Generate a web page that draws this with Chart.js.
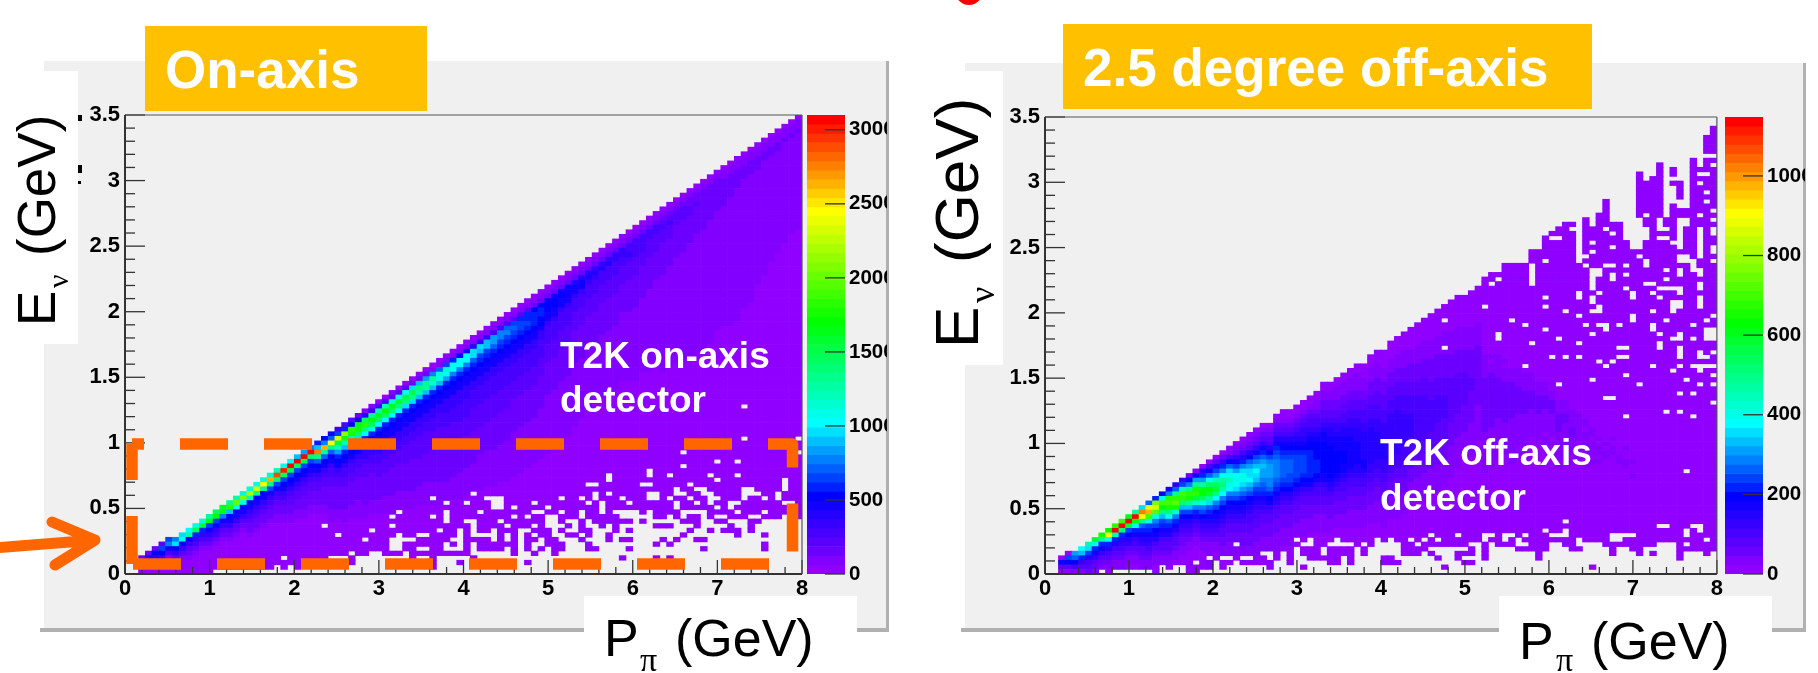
<!DOCTYPE html>
<html>
<head>
<meta charset="utf-8">
<title>T2K on-axis and off-axis</title>
<script src="https://cdn.jsdelivr.net/npm/chart.js@4"></script>
<style>
html, body { margin: 0; background: #fff; }
#page { position: relative; width: 1818px; height: 673px; overflow: hidden; filter: blur(0.5px); }
#page > * { position: absolute; }
canvas { display: block; }
.panel { background: #f0f0f0; }
.shadowB, .shadowR { background: #b0b0b0; }
.white { background: #fff; }
.amber { background: #ffc000; }
.t { font-family: "Liberation Sans", Arial, sans-serif; line-height: 1; white-space: pre; color: #000; }
.b { font-weight: bold; color: #fff; }
.s { font-family: "Liberation Serif", serif; }
.r { transform: rotate(-90deg); transform-origin: left top; }
</style>
</head>
<body>
<div id="page">
  <div style="left:955px;top:-24px;width:28px;height:29px;border-radius:50%;background:#f00"></div>

  <div class="panel" style="left:44px;top:61px;width:842px;height:567px"></div>
  <div class="shadowB" style="left:40px;top:628px;width:849px;height:4px"></div>
  <div class="shadowR" style="left:886px;top:61px;width:3px;height:571px"></div>
  <div class="panel" style="left:965px;top:63px;width:838px;height:565px"></div>
  <div class="shadowB" style="left:961px;top:628px;width:845px;height:4px"></div>
  <div class="shadowR" style="left:1803px;top:63px;width:3px;height:569px"></div>

  <div class="white" style="left:0;top:71px;width:78px;height:273px"></div>
  <div class="white" style="left:925px;top:71px;width:78px;height:294px"></div>
  <div class="white" style="left:584px;top:596px;width:273px;height:77px"></div>
  <div class="white" style="left:1499px;top:596px;width:273px;height:77px"></div>

  <canvas id="onAxis" width="887" height="673" style="left:0;top:0"></canvas>
  <canvas id="onAxisBar" width="87" height="673" style="left:800px;top:0"></canvas>
  <canvas id="offAxis" width="825" height="673" style="left:900px;top:0"></canvas>
  <canvas id="offAxisBar" width="87" height="673" style="left:1718px;top:0"></canvas>

  <div class="amber" style="left:145px;top:26px;width:282px;height:85px"></div>
  <div class="amber" style="left:1063px;top:24px;width:529px;height:85px"></div>
  <div class="t b" style="left:165px;top:43.2px;font-size:53px">On-axis</div>
  <div class="t b" style="left:1083px;top:41.2px;font-size:53px">2.5 degree off-axis</div>

  <div class="t b" style="left:560px;top:336.7px;font-size:37px">T2K on-axis</div>
  <div class="t b" style="left:560px;top:380.7px;font-size:37px">detector</div>
  <div class="t b" style="left:1380px;top:433.7px;font-size:37px">T2K off-axis</div>
  <div class="t b" style="left:1380px;top:478.7px;font-size:37px">detector</div>

  <div class="t" style="left:604px;top:612px;font-size:52px">P</div>
  <div class="t s" style="left:640px;top:642.5px;font-size:34px">π</div>
  <div class="t" style="left:675px;top:612px;font-size:52px">(GeV)</div>
  <div class="t" style="left:1519px;top:615px;font-size:52px">P</div>
  <div class="t s" style="left:1556px;top:642.5px;font-size:34px">π</div>
  <div class="t" style="left:1591px;top:615px;font-size:52px">(GeV)</div>

  <div class="t r" style="left:10px;top:326px;font-size:53px">E</div>
  <div class="t s r" style="left:43px;top:288px;font-size:30px">ν</div>
  <div class="t r" style="left:10px;top:256px;font-size:53px">(GeV)</div>
  <div class="t r" style="left:925.5px;top:348px;font-size:62px">E</div>
  <div class="t s r" style="left:964px;top:303px;font-size:36px">ν</div>
  <div class="t r" style="left:925.5px;top:263px;font-size:62px">(GeV)</div>

  <div style="left:78px;top:115px;width:4px;height:6px;background:#000"></div>
  <div style="left:78px;top:165px;width:4px;height:8px;background:#000"></div>
  <div style="left:78px;top:181px;width:3px;height:3px;background:#000"></div>

  <svg width="110" height="90" style="left:0;top:505px">
    <path d="M-5 43 L95 35 M52 17 L95 35 L55 60" fill="none" stroke="#ff6600" stroke-width="11" stroke-linecap="round" stroke-linejoin="round"/>
  </svg>
</div>

<script>
// ROOT rainbow palette, one colour per band of the z axis
const palette = [
  '#9000ff','#8200ff','#6c00ff','#5a00ff','#4800ff','#3600ff','#2400ff','#1200ff','#0000ff',
  '#0020ff','#0040ff','#0060ff','#0080ff','#009fff','#00bfff','#00dfff','#00ffff',
  '#00ffe8','#00ffd0','#00ffb9','#00ffa2','#00ff8b','#00ff74','#00ff5d','#00ff46','#00ff2e','#00ff17','#00ff00',
  '#15ff00','#2aff00','#40ff00','#55ff00','#6aff00','#80ff00','#95ff00','#aaff00','#bfff00','#d5ff00','#eaff00','#ffff00',
  '#ffe600','#ffcc00','#ffb300','#ff9900','#ff8000','#ff6600','#ff4d00','#ff3300','#ff1a00','#ff0000'
];
const bandCodes = '0123456789abcdefghijklmnopqrstuvwxyzABCDEFGHIJKLMN';

const binX = 0.08;   // GeV, P_pi
const binY = 0.035;  // GeV, E_nu

const momentumTicks = [0,1,2,3,4,5,6,7,8];
const momentumMinor = [0.2,0.4,0.6,0.8,1.2,1.4,1.6,1.8,2.2,2.4,2.6,2.8,3.2,3.4,3.6,3.8,4.2,4.4,4.6,4.8,5.2,5.4,5.6,5.8,6.2,6.4,6.6,6.8,7.2,7.4,7.6,7.8];
const energyTicks = [0,0.5,1,1.5,2,2.5,3,3.5];
const energyMinor = [0.1,0.2,0.3,0.4,0.6,0.7,0.8,0.9,1.1,1.2,1.3,1.4,1.6,1.7,1.8,1.9,2.1,2.2,2.3,2.4,2.6,2.7,2.8,2.9,3.1,3.2,3.3,3.4];

const onAxisMaxCount = 3100;
const onAxisCountTicks = [0,500,1000,1500,2000,2500,3000];
const offAxisMaxCount = 1148;
const offAxisCountTicks = [0,200,400,600,800,1000];

// highest filled E bin of each P bin
const onAxisTops = [-1,-1,3,4,5,6,7,7,8,9,10,11,12,13,14,15,16,17,18,19,20,21,22,23,24,25,26,27,28,29,30,31,32,33,34,35,36,37,38,39,40,41,42,43,44,45,46,47,48,49,50,51,52,53,54,55,56,57,58,59,60,61,62,63,64,65,66,67,68,69,70,71,72,73,74,75,76,77,78,79,80,81,82,83,84,85,86,87,88,89,90,91,92,93,94,95,96,97,98,99];

// colour bands per P bin, read from the top bin downwards; the last one runs on to bin 0
const onAxisColumns = [
  '','','2310','26410','286210','3a85210','ac74100','cf853100','fh853100','gk8532100',
  'hn95421000','ip95421000','kqa75421000','nra75421000','pqc75321000','lte875321000','kwg875321000','ixh8753210000','izj87543221000','hBl87543221000',
  'iDl875432210000','iGma7543221000','jKma754322110000','hMna8754322110000','gNoa87543322110000','eNna8754332211000','dNna87543322211000','cNma875433222110000','9eIlb87543322211000','8cGkb875433222211000',
  '7bDlb8754433222221110','5aBojd9875433222221100','49ysje987544332222211100','38tske9875443322222111000','27qsnf98754433222221111000','16ntmg98755433322222211100','15lrnh987554433222222111000','04kqng9877554433322222111000','04jrng98775544333222221111000','13iqmg987755443332222221111000',
  '03hpmg9877554433322222211110000','03gomf98775544333322222211110000','02folf98775544333322222221111000','02emke987755443333322222211110000','02dlke9877554433333222222111110000','01ckie98775544433332222222111110000','01bihe98775544433332222222211111000','01aihd987755544433332222222211111000','019hgc987755544433333222222211111000','018ggc9877555444433333222222111111000',
  '017ggc9877555444433332222222111111000','016ffb98775544443333322222221111110000','015fea987755444433333222222111111110000','015eea98775544443333322222211111111000','014ddb9877554444333332222222111111110000','014cca9877554444333332222222111111110000','014bca98775544443333322222221111111110000','013aba98775544443333222222211111111110000','0139aa987755444433332222222111111111100000','01399a987755444433332222222111111111100000',
  '01289998775544443333222222211111111110000','012899887554444333322222221111111111100000','01288877544443333222222211111111111110000','0127887754444333322222221111111111111000','0127877544443333222222211111111111110000','012777754444333322222221111111111111000','012677544433332222222111111111111110000','01267754443333222222211111111111110000','0126654443333222222211111111111110000','01256544433332222222111111111111100000',
  '0125644433332222222111111111111110000','012564443333222222211111111111111000','0125544433332222222111111111111110000','01255443333222222111111111111111000','012445433332222222111111111111111000','01244443333222222211111111111111110000','0124444333222222211111111111111110000','0124433332222222111111111111111111000','01244333322222211111111111111111110000','0123433322222221111111111111111111110000',
  '0123433322222211111111111111111111110000','012333222222211111111111111111111111000','01233322222221111111111111111111111110000','0122332222221111111111111111111111111000','012232222221111111111111111111111111110000','01222222222111111111111111111111111111000','012222222211111111111111111111111111100','012222222111111111111111111111111110000','01122222211111111111111111111111111000','0112222211111111111111111111111111110000',
  '0112222111111111111111111111111111110000','011222111111111111111111111111111100000','01122211111111111111111111111111110000','0112221111111111111111111111111000','0112211111111111111111111111110000','011221111111111111111111111100000','01122111111111111111111111100000','0112111111111111111111111100000','011211111111111111111111100000','01121111111111111111111110000'
];

// lowest E bins, bottom row first, from P bin 10 on: # is filled, anything else empty
const onAxisLowRows = [
  '###.................',
  '############.#.#....' + '...............#',
  '####################' + '...#...........#...#.........#',
  '#############.######' + '...#........#..#.....#..............' + '.......#....#.#',
  '####################' + '###.##..###.#########......#..#..#..',
  '####################' + '#########..##..##...#.####.#.#.#.##.' + '..##....#..........#........#',
  '####################' + '#########..######.#.#.######.#..###.' + '..#.........#.#.............#',
  '####################' + '#####.###....#####..####.#.#.##.##..' + '.#...#.##....#.#..##',
  '####################' + '#.########.##..####.#....#.#.#.##..#' + '#.#..#..........#.......#...#',
  '####################' + '######.#########.##.#.##.###..###.#.' + '.##...#.#........#..#.###.#',
  '###################.' + '#########.###########.####.###.#...#' + '.#..#.#.....###...#....#..#',
  '####################' + '#################.##..###.######..#.' + '.#.######.#.....###..##...##',
  '####################' + '#########.#####.#.#########.#.##..##' + '#.#####.....##.#.##.#..###..###..#',
  '####################' + '##########.######.####.#######..##.#' + '#.##.#....#.####....####.###.#####',
  '####################' + '########################..#.####.###' + '####.##########.#####.#.##########'
];

// empty bins higher up: [P bin, first E bin, last E bin]
const onAxisGaps = [
  [51,17,17],[45,16,16],[47,15,15],[50,15,15],[53,16,16],[54,15,16],[55,15,16],[60,15,15],[64,16,16],
  [91,36,36],[91,29,29],[99,29,29],[99,26,26],[82,26,26],[87,24,24],[90,24,24],[82,23,23],[77,21,22],[71,20,21],[80,21,21],[86,21,21],[90,21,21],
  [87,20,20],[97,18,20],[68,19,19],[69,19,19],[76,19,19],[77,19,19],[83,19,19],[81,17,18],[84,18,18],[85,17,18],[91,16,18],[92,17,18],
  [71,17,17],[69,16,17],[77,16,17],[78,16,17],[82,17,17],[86,15,17],[93,17,17],[96,16,17],[67,16,16],[73,16,16],[80,16,16],[83,16,16],[87,16,16],[94,16,16],
  [68,15,15],[70,15,15],[74,15,15],[81,15,15],[84,15,15],[89,15,15],[90,15,15],[97,15,15],[98,15,15]
];

const offAxisTops = [-1,-1,3,4,4,5,6,7,8,9,10,11,12,13,14,15,16,17,18,19,20,21,22,23,24,25,26,27,28,29,30,31,32,32,34,35,35,36,37,38,39,41,41,42,43,44,45,45,47,48,48,50,51,52,53,54,55,56,57,58,59,60,60,61,62,64,65,65,67,67,67,67,70,70,73,74,75,76,76,76,77,75,78,81,76,76,72,70,87,85,86,89,77,88,85,79,90,88,95,97];

// E bin where each column string begins; above it the colour stays at band 0
const offAxisStarts = [-1,-1,3,4,4,5,6,7,8,9,10,11,12,13,14,15,16,17,18,19,20,21,22,23,24,25,26,27,28,29,30,31,32,32,34,35,35,36,37,38,39,41,41,42,43,44,45,45,47,48,48,50,51,52,53,54,55,56,57,58,59,60,60,61,62,50,48,48,46,45,45,44,44,42,42,40,38,38,36,36,34,32,30,30,30,26,28,26,0,0,0,0,0,0,0,0,0,0,0,0];

const offAxisColumns = [
  '','','0730','0a830','db841','ge9531','kfa6432','ph975321','sk9753210','rDg9643210',
  'tNj96432110','uNm965432110','qNpa865321100','kNrh9754321100','fIDlb9765332110','bCGuha9765432110','9xBvhca876432110','8hurmea9764332110','7ctusmgb97643321100','6bltvsic9764332110',
  '5ajutmea8654322110','27cltskea865432110','17dlstpic97543211000','069dkqrnhca865432110','047bgnrplfb976543211','036adjnpmgca87654321100','0259cgkmkgca876543322110','0148bfhjhgca8765433221110','01257adghgfca8765433221110','012469cfhhfdb98765433222111',
  '012368bdffgeca8765443322211100','012357acegfeca9765443322211100','0123579bdeddcba976543322211100','0123468acdddccb9875433222111000','01234679abccccba976543322211110','0012346789abbbba9865433222111100','0012346789abbbaa98654332221111000','00123456789aaaaa98654332221111000','001234556789aaaa98754332221111000','0012344567889999998754332221110000',
  '00112344567888899987544332211110000','0011223345677888888877544332211110000','001122334566778888888765433222111000','0011122334556777888887654332221110000','00111223344566777888776544332221110000','001112233445566777777765443322211110000','0011112233445566677777665443322211110000','00011122334445566666677654433222111100000','0001112223344455666666665544332221111000','00011122233344455566666655443322211111000',
  '000011122233344455556666555443322211111000','0000111222333444555555555544433222111110000','00001112223334445555555555444332222111110000','00001111222333444455555554444333222111110000','00000111222233344445555544443332221111100000','000001111222233344444444444333222211111000','00000111122223333444444444433322221111110000','000000111122222333344444443333222211111100000','0000001111222223333444444333332222111111000','00000011111222223333444443333322221111110000',
  '000000011111222223333333333222221111111000','0000000111112222233333333322222111111100000','00000001111122222333333322222211111100000','000000001111122222233322222221111111000','0000000011111222222222222211111111000','00011111222222222222111111111000','0101122222222222211111111100','011111222222222111111111000','1011122222222211111110000','011122222222111111110100',
  '0111122222211111110100','011112222211111110010','01111222211111100','0111222211111100','01112221111101100','011222111110100','01112222111111010','0111221111101100','011112211110100','00111111011100',
  '01101111100100','011011101000','010110100','00101100','01011000','01100','0100110','0010010','0','0',
  '0','0','0','0','0','0','0','0','0','0'
];

const offAxisLowRows = [
  '......#....##..',
  '#######.#..####' + '.#......#....#....................#...' + '..................#',
  '############.##' + '.##.#####..#.....##.#....###.........#' + '#',
  '##############.' + '#..#..##.#.#..#####.#....##......#..#.' + '..#.......#....................#',
  '###############' + '#######..#.#.###.####.#.....###.#...##' + '#.#.......#..........#...#.#...#...#.',
  '###############' + '############.###.####.#.....####......' + '#.#....#####...##....#..##.....######',
  '###############' + '###.#########..##....#.#....##.#######' + '..#.###..###..##....########...#.####',
  '###############' + '############.#.###.#####.#.##.#.#.####' + '##.##.#.########.####..############.#',
  '###############' + '################################.###.#' + '##..#..#.###...######....#######.####',
  '###############' + '######################################' + '###########.##.#################.#.##',
  '###############' + '######################################' + '############################..###..##'
];

const offAxisGaps = [
  [8,0,0],[75,73,73],[76,73,73],[78,75,75],[79,68,76],[80,69,69],[80,67,67],[81,66,66],[82,66,66],[81,62,65],[82,65,65],[81,72,72],[81,70,70],[84,71,71],[83,75,75],[84,74,74],[83,67,67],[84,67,67],[86,67,67],[88,69,69],[89,67,68],
  [84,64,65],[86,65,65],[89,63,63],[90,63,63],[92,66,66],[92,64,64],[94,65,66],[97,65,66],[97,62,63],[72,63,67],[74,68,68],[66,63,63],[67,64,64],[79,60,61],[81,59,60],[82,61,61],[81,57,57],[82,57,58],[86,62,62],[87,60,61],[90,61,61],
  [91,60,60],[91,62,62],[92,62,62],[93,62,62],[93,57,59],[94,61,62],[94,58,59],[97,58,60],[74,60,60],[74,58,58],[65,58,58],[77,57,57],[79,56,56],[90,57,57],[59,55,55],[69,55,55],[71,54,54],[74,53,53],[67,51,52],[76,51,51],[72,50,50],
  [79,50,50],[80,54,54],[81,52,52],[82,54,54],[83,53,54],[85,54,54],[87,55,56],[90,53,54],[91,52,52],[92,55,55],[93,51,51],[94,51,52],[96,54,54],[96,51,51],[98,55,55],[99,56,56],[98,51,53],[99,51,53],[59,49,49],[85,49,49],[86,49,49],
  [91,49,50],[94,47,49],[97,47,48],[98,47,47],[99,48,48],[75,47,47],[77,47,47],[79,47,47],[85,47,47],[86,47,47],[82,46,46],[83,45,45],[84,46,46],[71,45,45],[90,45,45],[94,45,45],[96,45,45],[97,45,45],[98,45,45],[99,45,45],[97,44,44],
  [93,44,44],[99,43,43],[86,43,43],[95,42,42],[81,42,42],[76,41,41],[88,41,41],[97,41,41],[99,41,41],[94,39,39],[96,39,39],[83,38,38],[84,38,38],[99,37,37],[86,34,34],[92,35,35],[94,35,35],[96,34,34],[95,22,22],[77,11,11],
  [88,71,77],[89,73,75],[89,78,78],[91,75,77],[92,75,75],[91,73,73],[92,73,73],[93,72,72],[93,86,86],[93,81,84],[94,80,81],[94,77,77],[94,71,76],[94,68,69],[95,76,77],[95,68,69],[96,66,68],[97,87,87],[97,85,85],[97,78,78],[97,69,75],
  [98,91,91],[98,87,87],[98,83,83],[98,81,81],[99,91,91],[99,89,89],[99,79,79],[99,77,77],[99,74,75],[99,70,71],[99,68,68]
];

// the hand drawn dashed box on the on-axis plot, in GeV
const boxOpen = [{x:0.083,y:0.991},{x:7.888,y:0.991},{x:7.888,y:0.076},{x:0.083,y:0.076}];
const boxLeft = [{x:0.083,y:0.076},{x:0.083,y:0.991}];

function buildCells(columns, tops, starts, lowRows, gaps) {
  const cells = [];
  const colours = [];
  columns.forEach((col, c) => {
    for (let r = tops[c]; r >= 0; r--) {
      if (r < lowRows.length && c >= 10 && lowRows[r][c - 10] !== '#') continue;
      if (gaps.some(g => g[0] === c && r >= g[1] && r <= g[2])) continue;
      const pos = starts[c] - r;
      const code = pos < 0 ? '0' : (col[pos] || col[col.length - 1]);
      cells.push({x: (c + 0.5) * binX, y: [r * binY, (r + 1) * binY]});
      colours.push(palette[bandCodes.indexOf(code)]);
    }
  });
  return {cells, colours};
}

// ROOT draws its ticks inwards, and they sit above the cells but under the dashed box
const rootAxes = {
  id: 'rootAxes',
  afterDatasetDraw(chart, args) {
    if (args.meta.type !== 'bar') return;
    const {ctx, chartArea: a, scales: {x, y}} = chart;
    ctx.save();
    ctx.strokeStyle = '#333';
    ctx.lineWidth = 1.3;
    const seg = (x0, y0, x1, y1) => { ctx.beginPath(); ctx.moveTo(x0, y0); ctx.lineTo(x1, y1); ctx.stroke(); };
    energyTicks.forEach(v => seg(a.left, y.getPixelForValue(v), a.left + 20, y.getPixelForValue(v)));
    energyMinor.forEach(v => seg(a.left, y.getPixelForValue(v), a.left + 10, y.getPixelForValue(v)));
    momentumTicks.forEach(v => seg(x.getPixelForValue(v), a.bottom, x.getPixelForValue(v), a.bottom - 14));
    momentumMinor.forEach(v => seg(x.getPixelForValue(v), a.bottom, x.getPixelForValue(v), a.bottom - 7));
    ctx.lineWidth = 1.2;
    ctx.strokeStyle = '#555';
    seg(a.left, a.top, a.right, a.top);
    seg(a.right, a.top, a.right, a.bottom);
    ctx.lineWidth = 2;
    ctx.strokeStyle = '#333';
    seg(a.left, a.top, a.left, a.bottom);
    seg(a.left, a.bottom, a.right, a.bottom);
    ctx.restore();
  }
};

function drawHisto(id, hist, area, extra) {
  const labelFont = {family: '"Liberation Sans", Arial, sans-serif', weight: 'bold', size: 22};
  new Chart(document.getElementById(id), {
    type: 'bar',
    data: {
      datasets: [{
        data: hist.cells,
        backgroundColor: hist.colours,
        barPercentage: 1,
        categoryPercentage: 1,
        order: 2
      }].concat(extra)
    },
    options: {
      responsive: false,
      animation: false,
      events: [],
      layout: {padding: {left: 0, top: area.top, right: area.right, bottom: 0}},
      plugins: {legend: {display: false}, tooltip: {enabled: false}},
      scales: {
        x: {
          type: 'linear', min: 0, max: 8, offset: false,
          grid: {display: false, drawTicks: false}, border: {display: false},
          afterBuildTicks: s => { s.ticks = momentumTicks.map(value => ({value})); },
          afterFit: s => { s.height = area.below; },
          ticks: {font: labelFont, color: '#000', padding: 2, maxRotation: 0, autoSkip: false, callback: v => String(v)}
        },
        y: {
          type: 'linear', min: 0, max: 3.5,
          grid: {display: false, drawTicks: false}, border: {display: false},
          afterBuildTicks: s => { s.ticks = energyTicks.map(value => ({value})); },
          afterFit: s => { s.width = area.left; },
          ticks: {font: labelFont, color: '#000', padding: 5, autoSkip: false, callback: v => String(v)}
        }
      }
    },
    plugins: [rootAxes]
  });
}

function drawColourBar(id, maxCount, countTicks, top) {
  const bands = palette.map((c, i) => ({x: 'z', y: [i * maxCount / palette.length, (i + 1) * maxCount / palette.length]}));
  new Chart(document.getElementById(id), {
    type: 'bar',
    data: {
      labels: ['z'],
      datasets: [{data: bands, backgroundColor: palette, barPercentage: 1, categoryPercentage: 1}]
    },
    options: {
      responsive: false,
      animation: false,
      events: [],
      layout: {padding: {left: 7, top: top, right: 0, bottom: 99}},
      plugins: {legend: {display: false}, tooltip: {enabled: false}},
      scales: {
        x: {display: false},
        y: {
          position: 'right', min: 0, max: maxCount,
          grid: {display: false, drawTicks: false}, border: {display: false},
          afterBuildTicks: s => { s.ticks = countTicks.map(value => ({value})); },
          afterFit: s => { s.width = 42; },
          ticks: {font: {family: '"Liberation Sans", Arial, sans-serif', weight: 'bold', size: 20.5}, color: '#000', padding: 4, autoSkip: false, callback: v => String(v)}
        }
      }
    },
    plugins: [{
      id: 'barTicks',
      afterDatasetsDraw(chart) {
        const {ctx, chartArea: a, scales: {y}} = chart;
        ctx.save();
        ctx.strokeStyle = '#333';
        ctx.lineWidth = 1.3;
        countTicks.forEach(v => {
          const py = y.getPixelForValue(v);
          ctx.beginPath(); ctx.moveTo(a.right - 20, py); ctx.lineTo(a.right, py); ctx.stroke();
        });
        ctx.restore();
      }
    }]
  });
}

const dashStyle = {type: 'scatter', showLine: true, pointRadius: 0, borderColor: '#ff6600', borderWidth: 11.5,
  borderCapStyle: 'butt', borderJoinStyle: 'round', borderDash: [48, 36], clip: false, order: 1};

drawHisto('onAxis',
  buildCells(onAxisColumns, onAxisTops, onAxisTops, onAxisLowRows, onAxisGaps),
  {left: 125, top: 115, right: 85, below: 99},
  [Object.assign({data: boxOpen, borderDashOffset: 36}, dashStyle),
   Object.assign({data: boxLeft, borderDashOffset: 0}, dashStyle)]);

drawHisto('offAxis',
  buildCells(offAxisColumns, offAxisTops, offAxisStarts, offAxisLowRows, offAxisGaps),
  {left: 145, top: 117, right: 5, below: 99},
  []);

drawColourBar('onAxisBar', onAxisMaxCount, onAxisCountTicks, 115);
drawColourBar('offAxisBar', offAxisMaxCount, offAxisCountTicks, 117);
</script>
</body>
</html>
